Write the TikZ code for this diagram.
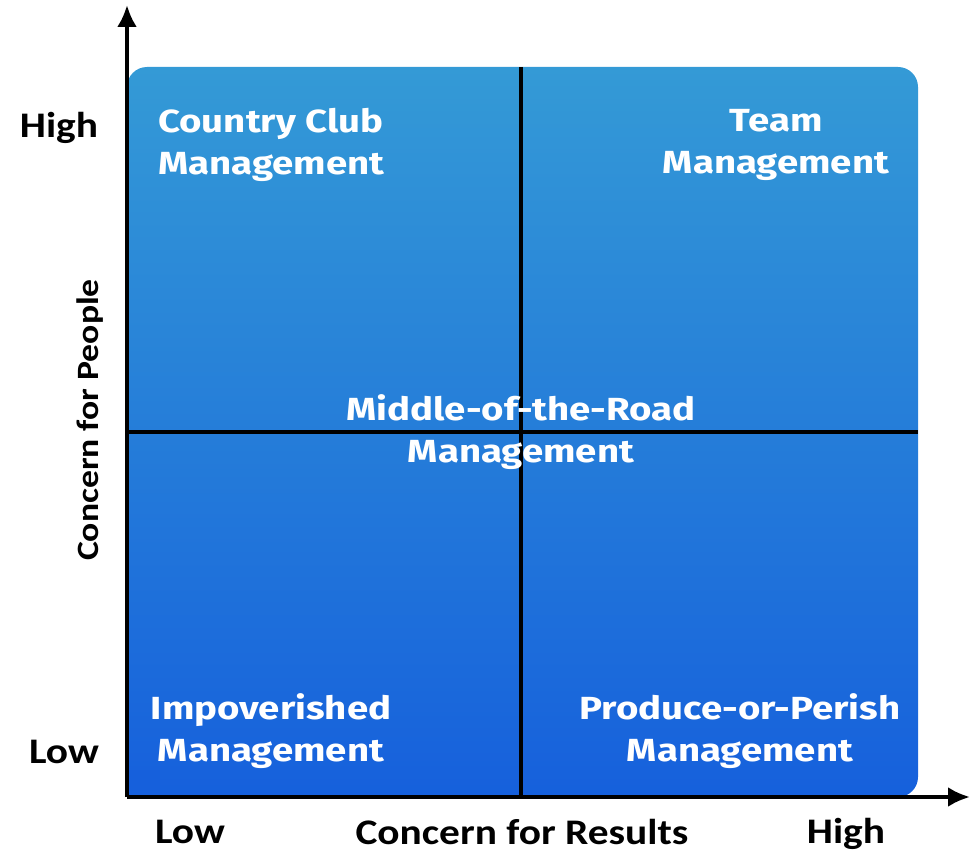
\documentclass[tikz,border=0pt]{standalone}
\usepackage{fontspec}
\setmainfont{Fira Sans}
\newfontfamily\quadfont[FakeStretch=1.2]{Fira Sans}
\newfontfamily\axisfont[FakeStretch=1.15]{Carlito}
\usetikzlibrary{arrows.meta}
\definecolor{topblue}{RGB}{52,154,214}
\definecolor{botblue}{RGB}{22,96,220}
\tikzset{
  x=1pt,y=-1pt,
  axis/.style={line width=4pt,-{Latex[length=22pt,width=20pt]}},
  divider/.style={line width=3.5pt,black},
  quad/.style={text=white,font=\quadfont\fontsize{32}{42}\selectfont\bfseries,inner sep=0pt},
  axlab/.style={font=\axisfont\fontsize{36}{40}\selectfont\bfseries,inner sep=0pt,text=black},
}
\begin{document}
\begin{tikzpicture}
\useasboundingbox (0,0) rectangle (970,856);
% box
\shade[top color=topblue,bottom color=botblue,rounded corners=20pt] (127,67) rectangle (918,797);
\fill[botblue] (127,770) rectangle (160,797);
% coordinates
\coordinate (O) at (127,797);
\coordinate (ytop) at (127,5);
\coordinate (xend) at (970,797);
\coordinate (vtop) at (521,67);
\coordinate (vbot) at (521,797);
\coordinate (hl) at (127,432);
\coordinate (hr) at (918,432);
% dividers
\draw[divider] (vtop) -- (vbot);
\draw[divider] (hl) -- (hr);
% axes
\draw[axis] (O) -- (ytop);
\draw[axis] (O) -- (xend);
% quadrant labels
\node[quad,align=left,anchor=west] (cc) at (158,145) {Country Club\\Management};
\node[quad,align=center] (team) at (776,145) {Team\\Management};
\node[quad,align=center] (mid) at (521,432) {Middle-of-the-Road\\Management};
\node[quad,align=center] (imp) at (271,731) {Impoverished\\Management};
\node[quad,align=center] (pop) at (740,731) {Produce-or-Perish\\Management};
% axis labels
\node[axlab] (yhigh) at (59,128) {High};
\node[axlab] (ylow) at (64,752) {Low};
\node[axlab] (xlow) at (190,832) {Low};
\node[axlab] (xlab) at (522,832) {Concern for Results};
\node[axlab] (xhigh) at (846,834) {High};
\node[axlab,rotate=90,font=\axisfont\fontsize{31}{36}\selectfont\bfseries] (ylab) at (90,420) {Concern for People};
\end{tikzpicture}
\end{document}
